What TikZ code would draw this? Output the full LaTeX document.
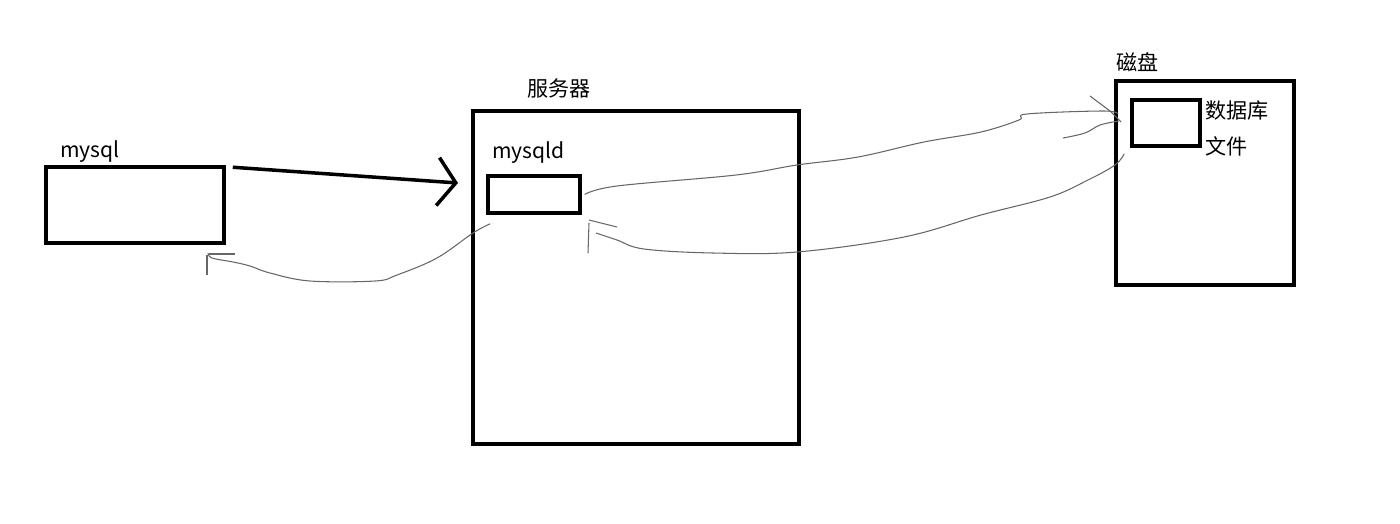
\documentclass[tikz,border=0pt]{standalone}
\usepackage{fontspec}
\newfontfamily\cjk{Noto Sans CJK SC}
\usetikzlibrary{arrows.meta,positioning}

\begin{document}
\begin{tikzpicture}[every node/.style={font=\cjk\fontsize{12}{14}\selectfont},
  box/.style={draw,line width=2pt,inner sep=0pt},
  lbl/.style={anchor=west,inner sep=0pt},
  sketch/.style={draw=black!60,line width=0.6pt}]
\useasboundingbox (0,0) rectangle (28,-10.48);
% client, server and disk
\node[box,minimum width=3.56cm,minimum height=1.52cm] (mysql) at (2.70,-4.10) {};
\node[box,minimum width=6.52cm,minimum height=6.66cm] (server) at (12.72,-5.55) {};
\node[box,minimum width=1.84cm,minimum height=0.74cm] (mysqld) at (10.68,-3.89) {};
\node[box,minimum width=3.56cm,minimum height=4.08cm] (disk) at (24.10,-3.66) {};
\node[box,minimum width=1.36cm,minimum height=0.92cm] (file) at (23.32,-2.46) {};
% labels
\node[lbl] (mysqltext) at (1.20,-3.04) {mysql};
\node[lbl] (mysqldtext) at (9.84,-3.06) {mysqld};
\node[lbl] (servertext) at (10.54,-1.76) {服务器};
\node[lbl] (disktext) at (22.32,-1.24) {磁盘};
\node[lbl] (dbtext) at (24.10,-2.22) {数据库};
\node[lbl] (filetext) at ([yshift=-0.70cm]dbtext.west) {文件};
% request
\coordinate (tip) at (9.16,-3.66);
\draw[line width=2pt,-{Straight Barb[length=0.36cm,width=0.96cm]}]
  ([shift={(0.14,-0.04)}]mysql.north east) -- (tip);
% result back to client
\draw[sketch] plot[smooth,tension=0.6] coordinates {([shift={(0.08,-0.18)}]mysqld.south west)
  (9.46,-4.66) (8.74,-5.16) (7.94,-5.50) (7.50,-5.62) (6.20,-5.62) (5.40,-5.46)
  (5.00,-5.32) (4.66,-5.24) (4.24,-5.16) (4.16,-5.06)};
\draw[sketch] (4.18,-5.08) -- (4.70,-5.08);
\draw[sketch] (4.14,-5.10) -- (4.14,-5.50);
% read from disk
\draw[sketch] plot[smooth,tension=0.6] coordinates {([shift={(0.06,0)}]mysqld.east)
  (12.34,-3.72) (14.72,-3.50) (15.94,-3.30) (17.16,-3.14) (18.48,-2.84)
  (19.62,-2.64) (20.38,-2.40) (20.54,-2.28) (22.06,-2.22) (22.36,-2.28)};
\draw[sketch] (21.80,-1.92) -- (22.20,-2.22) -- (22.42,-2.44);
\draw[sketch] plot[smooth,tension=0.6] coordinates {(21.26,-2.76) (21.70,-2.66) (22.00,-2.50) (22.38,-2.42)};
% data back to mysqld
\draw[sketch] plot[smooth,tension=0.6] coordinates {([shift={(-0.12,-0.12)}]file.south west)
  (22.30,-3.30) (21.76,-3.60) (21.00,-3.94) (19.62,-4.30) (18.08,-4.74)
  (15.94,-5.04) (14.26,-5.06) (12.88,-4.98) (12.34,-4.80) (11.92,-4.66)};
\draw[sketch] (11.78,-4.40) -- (12.34,-4.54);
\draw[sketch] (11.78,-4.46) -- (11.76,-5.06);
\end{tikzpicture}
\end{document}
